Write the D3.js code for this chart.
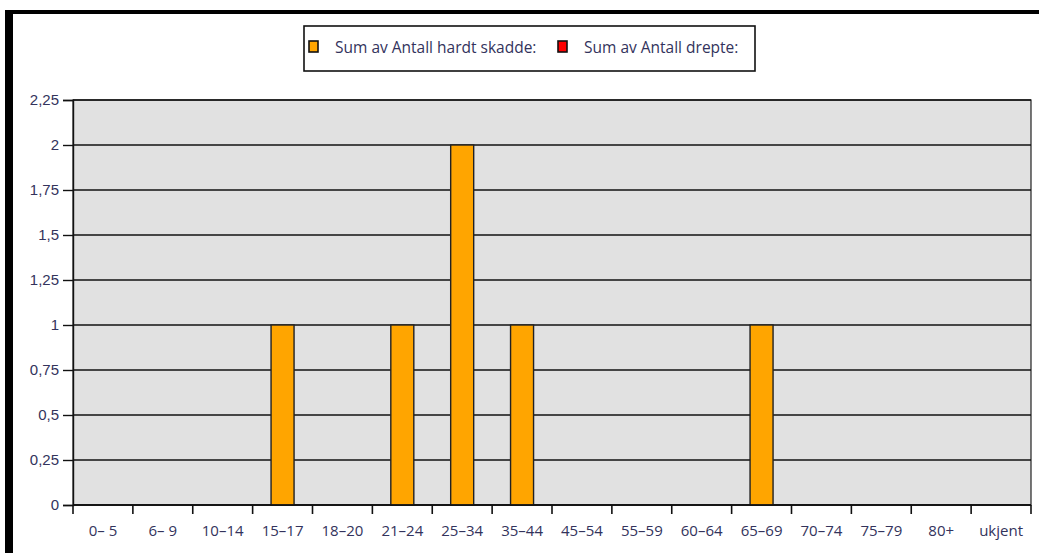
<!DOCTYPE html>
<html>
<head>
<meta charset="utf-8">
<script src="https://cdn.jsdelivr.net/npm/d3@7"></script>
<style>
  body { margin: 0; background: #fff; }
  svg { display: block; font-family: "Open Sans", "DejaVu Sans", sans-serif; }
</style>
</head>
<body>
<svg id="chart" width="1039" height="553"></svg>
<script>
// age groups and values
var categories = ["0– 5", "6– 9", "10–14", "15–17", "18–20", "21–24", "25–34", "35–44",
    "45–54", "55–59", "60–64", "65–69", "70–74", "75–79", "80+", "ukjent"];
var hardtSkadde = [0, 0, 0, 1, 0, 1, 2, 1, 0, 0, 0, 1, 0, 0, 0, 0];
var drepte = [0, 0, 0, 0, 0, 0, 0, 0, 0, 0, 0, 0, 0, 0, 0, 0];
var yTicks = [0, 0.25, 0.5, 0.75, 1, 1.25, 1.5, 1.75, 2, 2.25];
var seriesNames = ["Sum av Antall hardt skadde:", "Sum av Antall drepte:"];
var seriesColors = ["#ffa500", "#ff0000"];

var textColor = "#33335c";
var svg = d3.select("#chart");

// outer frame, only top and left show in the crop
svg.append("line")
    .attr("x1", 5).attr("x2", 1039)
    .attr("y1", 12).attr("y2", 12)
    .attr("stroke", "#000").attr("stroke-width", 4);
svg.append("line")
    .attr("x1", 9).attr("x2", 9)
    .attr("y1", 10).attr("y2", 553)
    .attr("stroke", "#000").attr("stroke-width", 8);

var margin = {left: 73, top: 100, right: 1031, bottom: 505};

var x = d3.scaleBand()
    .domain(categories)
    .range([margin.left, margin.right]);

var y = d3.scaleLinear()
    .domain([0, 2.25])
    .range([margin.bottom, margin.top]);

// plot background
svg.append("rect")
    .attr("x", margin.left).attr("y", margin.top)
    .attr("width", margin.right - margin.left)
    .attr("height", margin.bottom - margin.top)
    .attr("fill", "#e1e1e1")
    .attr("stroke", "#222")
    .attr("stroke-width", 1.2);

// gridlines
svg.append("g")
    .selectAll("line")
    .data(yTicks)
    .enter()
    .append("line")
    .attr("x1", margin.left).attr("x2", margin.right)
    .attr("y1", function(d) { return y(d); })
    .attr("y2", function(d) { return y(d); })
    .attr("stroke", "#111")
    .attr("stroke-width", 1.4);

// bars (second series is all zero)
var barW = 23;
var rows = categories.map(function(c, i) { return {cat: c, v: hardtSkadde[i], d: drepte[i]}; });

svg.append("g")
    .selectAll("rect")
    .data(rows.filter(function(d) { return d.v > 0; }))
    .enter()
    .append("rect")
    .attr("x", function(d) { return x(d.cat) + x.bandwidth() / 2 - barW / 2; })
    .attr("y", function(d) { return y(d.v); })
    .attr("width", barW)
    .attr("height", function(d) { return y(0) - y(d.v); })
    .attr("fill", seriesColors[0])
    .attr("stroke", "#222")
    .attr("stroke-width", 1.4);

// y axis
var yAxis = d3.axisLeft(y)
    .tickValues(yTicks)
    .tickSize(10)
    .tickPadding(4)
    .tickFormat(function(d) { return String(d).replace(".", ","); });

var gy = svg.append("g")
    .attr("transform", "translate(" + margin.left + ",0)")
    .call(yAxis);
gy.select(".domain").attr("stroke", "#111").attr("stroke-width", 1.4);
gy.selectAll(".tick line").attr("stroke", "#111").attr("stroke-width", 1.4);
gy.selectAll(".tick text").attr("fill", textColor).attr("font-size", 15);

// x axis, ticks on band boundaries
var gx = svg.append("g")
    .attr("transform", "translate(0," + margin.bottom + ")");
gx.append("line")
    .attr("x1", margin.left).attr("x2", margin.right)
    .attr("stroke", "#111").attr("stroke-width", 1.4);
gx.selectAll("line.tk")
    .data(categories.concat(["end"]))
    .enter()
    .append("line")
    .classed("tk", true)
    .attr("x1", function(d, i) { return margin.left + i * x.step(); })
    .attr("x2", function(d, i) { return margin.left + i * x.step(); })
    .attr("y1", 0).attr("y2", 9)
    .attr("stroke", "#111").attr("stroke-width", 1.6);
gx.selectAll("text")
    .data(categories)
    .enter()
    .append("text")
    .attr("x", function(d) { return x(d) + x.bandwidth() / 2; })
    .attr("y", 31)
    .attr("text-anchor", "middle")
    .attr("fill", textColor)
    .attr("font-size", 15)
    .text(function(d) { return d; });

// legend
var legend = svg.append("g");
legend.append("rect")
    .attr("x", 304).attr("y", 26)
    .attr("width", 451).attr("height", 45)
    .attr("fill", "#fff")
    .attr("stroke", "#111")
    .attr("stroke-width", 1.6);

var legendX = [309, 558];
seriesNames.forEach(function(name, i) {
    legend.append("rect")
        .attr("x", legendX[i]).attr("y", 41)
        .attr("width", 9).attr("height", 11)
        .attr("fill", seriesColors[i])
        .attr("stroke", "#111")
        .attr("stroke-width", 1.6);
    legend.append("text")
        .attr("x", legendX[i] + 26).attr("y", 53)
        .attr("fill", textColor)
        .attr("font-size", 15.5)
        .text(name);
});
</script>
</body>
</html>
